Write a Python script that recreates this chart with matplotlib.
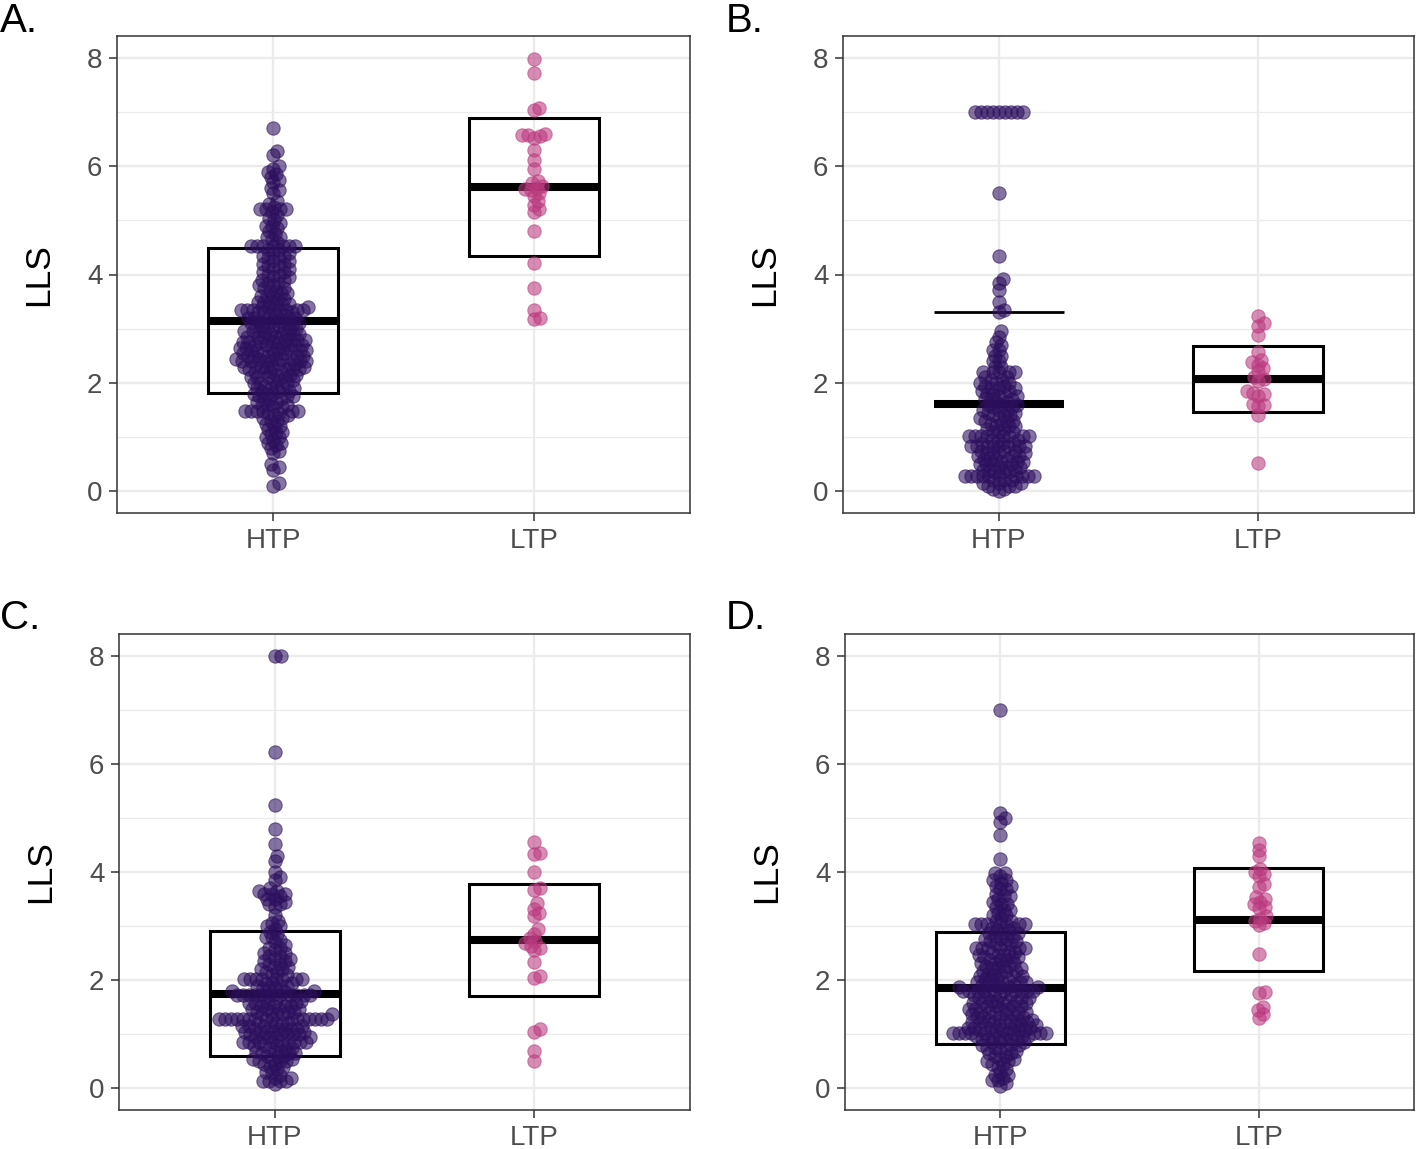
import numpy as np
import matplotlib
matplotlib.use("Agg")
import matplotlib.pyplot as plt
from matplotlib.patches import Rectangle
from matplotlib.ticker import MultipleLocator

plt.rcParams['font.family'] = ['Liberation Sans', 'DejaVu Sans']

categories = ['HTP', 'LTP']
panel_labels = ['A.', 'B.', 'C.', 'D.']
y_label = 'LLS'
colors = ['#2C0F5E', '#BB3A7F']

# ---- Panel A ----
A_htp_levels = [0.10, 0.15, 0.40, 0.45, 0.50, 0.70, 0.75, 0.80, 0.85, 0.90, 0.95, 1.00, 1.05, 1.10,
                1.15, 1.20, 1.25, 1.30, 1.35, 1.40, 1.45, 1.48, 1.55, 1.60, 1.65, 1.70, 1.75, 1.80,
                1.85, 1.90, 1.95, 2.00, 2.05, 2.10, 2.15, 2.20, 2.25, 2.30, 2.35, 2.40, 2.45, 2.50,
                2.55, 2.60, 2.65, 2.70, 2.75, 2.80, 2.85, 2.90, 2.95, 3.00, 3.05, 3.10, 3.15, 3.20,
                3.25, 3.30, 3.35, 3.40, 3.45, 3.50, 3.55, 3.60, 3.65, 3.70, 3.75, 3.80, 3.85, 3.90,
                3.95, 4.00, 4.05, 4.10, 4.15, 4.20, 4.25, 4.30, 4.35, 4.40, 4.45, 4.52, 4.60, 4.65,
                4.70, 4.75, 4.80, 4.85, 4.90, 4.95, 5.00, 5.05, 5.10, 5.15, 5.20, 5.25, 5.30, 5.35,
                5.50, 5.55, 5.60, 5.70, 5.75, 5.80, 5.85, 5.90, 5.95, 6.00, 6.20, 6.28, 6.70]
A_htp_counts = [1, 1, 1, 1, 1, 1, 1, 1, 1, 2, 1, 2, 1, 2,
                1, 2, 1, 2, 2, 2, 2, 6, 2, 3, 2, 3, 3, 3,
                3, 3, 3, 3, 3, 4, 3, 4, 4, 5, 4, 6, 5, 5,
                5, 5, 5, 5, 5, 5, 4, 5, 4, 4, 4, 4, 4, 4,
                3, 3, 8, 3, 3, 3, 2, 3, 2, 2, 2, 2, 2, 2,
                2, 2, 2, 2, 2, 2, 2, 2, 2, 2, 2, 7, 1, 1,
                2, 1, 1, 1, 2, 1, 1, 1, 1, 1, 4, 1, 1, 1,
                1, 1, 1, 1, 1, 1, 1, 1, 1, 1, 1, 1, 1]
A_ltp = [7.98, 7.72, 7.08, 7.03, 6.60, 6.58, 6.57, 6.55, 6.52, 6.30, 6.12, 5.95, 5.72, 5.68,
         5.64, 5.60, 5.58, 5.55, 5.50, 5.45, 5.35, 5.28, 5.20, 5.15, 4.80, 4.22, 3.76, 3.34,
         3.20, 3.18]
A_mean = [3.15, 5.62]
A_sd = [1.34, 1.27]

# ---- Panel B ----
B_htp_levels = [0.00, 0.05, 0.10, 0.15, 0.20, 0.28, 0.35, 0.40, 0.45, 0.50, 0.55, 0.60, 0.65,
                0.70, 0.75, 0.83, 0.90, 0.95, 1.02, 1.10, 1.15, 1.20, 1.25, 1.30, 1.35, 1.40,
                1.45, 1.50, 1.55, 1.60, 1.65, 1.70, 1.75, 1.80, 1.85, 1.90, 1.95, 2.00, 2.05,
                2.10, 2.20, 2.30, 2.40, 2.50, 2.60, 2.70, 2.75, 2.85, 2.95, 3.30, 3.35, 3.50,
                3.72, 3.85, 3.92, 4.35, 5.50, 7.00]
B_htp_counts = [1, 2, 3, 3, 3, 10, 3, 3, 3, 4, 3, 4, 3,
                4, 3, 8, 3, 3, 8, 3, 2, 3, 2, 3, 2, 3,
                2, 3, 2, 3, 2, 3, 2, 3, 2, 3, 2, 3, 2,
                2, 5, 2, 2, 2, 2, 1, 1, 1, 1, 1, 1, 1,
                1, 1, 1, 1, 1, 9]
B_ltp = [3.23, 3.10, 3.05, 2.88, 2.57, 2.42, 2.38, 2.33, 2.28, 2.22, 2.10, 2.07, 2.03, 1.85,
         1.82, 1.80, 1.76, 1.62, 1.60, 1.58, 1.40, 0.53]
B_mean = [1.62, 2.08]
B_sd = [1.68, 0.61]

# ---- Panel C ----
C_htp_levels = [0.08, 0.13, 0.20, 0.25, 0.30, 0.35, 0.40, 0.45, 0.50, 0.55, 0.60, 0.65, 0.70,
                0.75, 0.80, 0.86, 0.95, 1.00, 1.05, 1.10, 1.15, 1.20, 1.29, 1.37, 1.42, 1.47,
                1.52, 1.57, 1.62, 1.72, 1.80, 1.85, 1.90, 1.95, 2.03, 2.10, 2.15, 2.20, 2.25,
                2.30, 2.35, 2.40, 2.45, 2.50, 2.55, 2.60, 2.65, 2.70, 2.75, 2.80, 2.85, 2.90,
                2.95, 3.00, 3.05, 3.10, 3.20, 3.35, 3.40, 3.45, 3.50, 3.55, 3.60, 3.65, 3.70,
                3.85, 3.90, 4.00, 4.20, 4.30, 4.52, 4.80, 5.23, 6.22, 8.00]
C_htp_counts = [1, 4, 2, 1, 2, 1, 2, 2, 3, 3, 3, 3, 3,
                3, 3, 9, 5, 5, 5, 5, 5, 4, 16, 4, 4, 4,
                4, 4, 4, 12, 3, 3, 3, 3, 8, 2, 2, 2, 2,
                2, 2, 2, 2, 2, 1, 2, 1, 1, 1, 2, 1, 1,
                1, 2, 1, 1, 1, 1, 2, 1, 2, 1, 3, 2, 1,
                1, 1, 1, 1, 1, 1, 1, 1, 1, 2]
C_ltp = [4.55, 4.36, 4.33, 4.00, 3.70, 3.66, 3.42, 3.32, 3.25, 3.18, 2.94, 2.86, 2.78, 2.72,
         2.68, 2.64, 2.60, 2.55, 2.33, 2.07, 2.04, 1.10, 1.05, 0.70, 0.50]
C_mean = [1.75, 2.74]
C_sd = [1.16, 1.03]

# ---- Panel D ----
D_htp_levels = [0.05, 0.10, 0.15, 0.20, 0.25, 0.30, 0.35, 0.40, 0.45, 0.50, 0.55, 0.60, 0.65,
                0.70, 0.75, 0.80, 0.85, 0.92, 0.97, 1.02, 1.07, 1.12, 1.17, 1.22, 1.27, 1.32,
                1.37, 1.42, 1.47, 1.52, 1.57, 1.62, 1.67, 1.72, 1.80, 1.87, 1.92, 1.97, 2.02,
                2.07, 2.12, 2.17, 2.22, 2.27, 2.32, 2.37, 2.42, 2.47, 2.52, 2.60, 2.67, 2.72,
                2.77, 2.82, 2.87, 2.92, 2.97, 3.03, 3.10, 3.15, 3.20, 3.25, 3.30, 3.35, 3.40,
                3.45, 3.50, 3.55, 3.60, 3.68, 3.75, 3.80, 3.85, 3.92, 3.98, 4.24, 4.68, 4.93,
                5.00, 5.09, 7.00]
D_htp_counts = [1, 1, 2, 1, 2, 1, 1, 1, 2, 2, 2, 2, 2,
                2, 3, 3, 3, 5, 5, 10, 5, 5, 5, 5, 4, 4,
                4, 4, 4, 4, 4, 4, 4, 4, 10, 4, 4, 4, 4,
                3, 3, 3, 3, 3, 3, 3, 3, 3, 3, 6, 3, 2,
                3, 2, 3, 2, 2, 7, 2, 1, 2, 1, 2, 1, 2,
                1, 1, 2, 1, 2, 2, 1, 2, 1, 2, 1, 1, 1,
                1, 1, 1]
D_ltp = [4.53, 4.41, 4.29, 4.05, 4.00, 3.96, 3.92, 3.78, 3.72, 3.54, 3.50, 3.45, 3.40, 3.36,
         3.33, 3.18, 3.14, 3.10, 3.06, 3.02, 2.48, 1.79, 1.76, 1.50, 1.44, 1.38, 1.30]
D_mean = [1.86, 3.12]
D_sd = [1.04, 0.95]

panels = [
    (np.repeat(A_htp_levels, A_htp_counts), np.array(A_ltp), A_mean, A_sd),
    (np.repeat(B_htp_levels, B_htp_counts), np.array(B_ltp), B_mean, B_sd),
    (np.repeat(C_htp_levels, C_htp_counts), np.array(C_ltp), C_mean, C_sd),
    (np.repeat(D_htp_levels, D_htp_counts), np.array(D_ltp), D_mean, D_sd),
]

W, H = 1416, 1149
fig = plt.figure(figsize=(W / 100, H / 100), dpi=100)

# axes boxes in pixels: left, top, right, bottom
boxes = [(117, 36, 690, 513), (843, 36, 1414, 513),
         (119, 634, 690, 1110), (845, 634, 1414, 1110)]
label_pos = [(0, 2), (726, 2), (0, 599), (726, 599)]

XLIM = (0.4, 2.6)
YLIM = (-0.4, 8.4)
SPACING_PX = 6.0


def swarm_offsets(vals, xs, ys, d):
    """Beeswarm 'swarm' layout in pixel space; returns x offsets in data units."""
    py = np.asarray(vals, float) * ys
    order = np.argsort(py, kind='stable')
    px_placed = []
    py_placed = []
    out = np.zeros(len(py))
    for i in order:
        y = py[i]
        nb = [(px, pyy) for px, pyy in zip(px_placed, py_placed) if abs(pyy - y) < d]
        cands = [0.0]
        for px, pyy in nb:
            dx = np.sqrt(max(d * d - (pyy - y) ** 2, 0.0))
            cands += [px + dx, px - dx]
        cands = sorted(cands, key=lambda c: (abs(c), -c))
        chosen = 0.0
        for c in cands:
            ok = True
            for px, pyy in nb:
                if (px - c) ** 2 + (pyy - y) ** 2 < d * d - 1e-6:
                    ok = False
                    break
            if ok:
                chosen = c
                break
        px_placed.append(chosen)
        py_placed.append(y)
        out[i] = chosen / xs
    return out


for k, (htp, ltp, means, sds) in enumerate(panels):
    l, t, r, b = boxes[k]
    ax = fig.add_axes([l / W, 1 - b / H, (r - l) / W, (b - t) / H])
    ax.set_xlim(*XLIM)
    ax.set_ylim(*YLIM)
    xs = (r - l) / (XLIM[1] - XLIM[0])
    ys = (b - t) / (YLIM[1] - YLIM[0])

    ax.set_yticks([0, 2, 4, 6, 8])
    ax.set_yticklabels(['0', '2', '4', '6', '8'])
    ax.yaxis.set_minor_locator(MultipleLocator(1))
    ax.set_xticks([1, 2])
    ax.set_xticklabels(categories)
    ax.grid(which='major', color='#EBEBEB', lw=1.7, zorder=0)
    ax.grid(which='minor', axis='y', color='#EBEBEB', lw=0.9, zorder=0)
    ax.set_axisbelow(True)
    ax.tick_params(which='major', length=5.5, width=1.1, color='#333333',
                   labelcolor='#4D4D4D', labelsize=20, pad=5)
    ax.tick_params(which='minor', length=0)
    ax.tick_params(axis='x', pad=5)
    for sp in ax.spines.values():
        sp.set_color('#333333')
        sp.set_linewidth(1.1)

    ax.set_ylabel(y_label, fontsize=25.5, color='black')
    ax.yaxis.set_label_coords(-0.108, 0.5)

    # crossbars (mean +/- sd)
    for j, (m, s) in enumerate(zip(means, sds)):
        x0 = j + 1 - 0.25
        lo, hi = m - s, m + s
        if lo >= 0:
            ax.add_patch(Rectangle((x0, lo), 0.5, hi - lo, fill=False, ec='black',
                                   lw=2.2, joinstyle='miter', zorder=2))
        else:
            ax.plot([x0, x0 + 0.5], [hi, hi], color='black', lw=2.0,
                    solid_capstyle='butt', zorder=2)
        ax.plot([x0, x0 + 0.5], [m, m], color='black', lw=5.8,
                solid_capstyle='butt', zorder=2)

    # beeswarm points
    for j, vals in enumerate([htp, ltp]):
        offs = swarm_offsets(vals, xs, ys, SPACING_PX)
        ax.scatter(j + 1 + offs, vals, s=92, color=colors[j], alpha=0.58,
                   linewidths=0.8, edgecolors=colors[j], zorder=3)

    lx, ly = label_pos[k]
    fig.text(lx / W, 1 - ly / H, panel_labels[k], fontsize=29, color='black',
             ha='left', va='top')

fig.savefig('out.png', dpi=100)
